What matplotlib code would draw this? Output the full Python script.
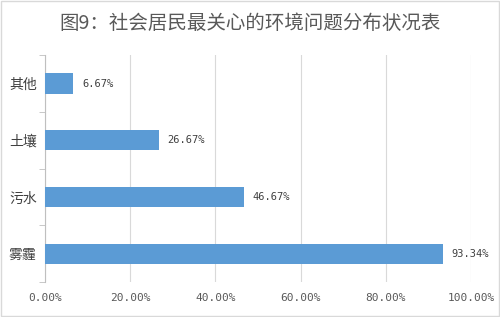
import matplotlib.pyplot as plt
from matplotlib.patches import Rectangle

plt.rcParams['font.family'] = ['Noto Sans CJK SC', 'DejaVu Sans']

categories = ['雾霾', '污水', '土壤', '其他']
values = [93.34, 46.67, 26.67, 6.67]
xticks = [0, 20, 40, 60, 80, 100]

fig = plt.figure(figsize=(5, 3.17), dpi=100)
ax = fig.add_axes([0.09, 0.11, 0.852, 0.716])

pos = list(range(len(categories)))
ax.barh(pos, values, height=0.36, color='#5B9BD5', zorder=3)
for p, v in zip(pos, values):
    ax.text(v + 2, p, '%.2f%%' % v, va='center', ha='left', fontsize=7.5,
            color='#404040', family=['DejaVu Sans Mono'])

ax.set_xlim(0, 100)
ax.set_ylim(-0.5, 3.5)
ax.set_xticks(xticks)
ax.set_xticklabels(['%.2f%%' % t for t in xticks], fontsize=8, color='#595959',
                   family=['DejaVu Sans Mono'])
ax.set_yticks(pos)
ax.set_yticklabels(categories, fontsize=10, color='#404040')
ax.set_yticks([-0.5, 0.5, 1.5, 2.5, 3.5], minor=True)
ax.tick_params(axis='y', which='major', length=0, pad=6)
ax.tick_params(axis='y', which='minor', length=4, color='#BFBFBF')
ax.tick_params(axis='x', length=0, pad=8)
ax.grid(axis='x', color='#D9D9D9', linewidth=0.8, zorder=0)
for s in ['top', 'right', 'bottom']:
    ax.spines[s].set_visible(False)
ax.spines['left'].set_color('#BFBFBF')

fig.text(0.5, 0.927, '图9：社会居民最关心的环境问题分布状况表', ha='center', va='center',
         fontsize=14, color='#595959')
fig.patches.append(Rectangle((0.002, 0.003), 0.995, 0.994, transform=fig.transFigure,
                             fill=False, edgecolor='#D9D9D9', linewidth=1))

fig.savefig('out.png', dpi=100)
